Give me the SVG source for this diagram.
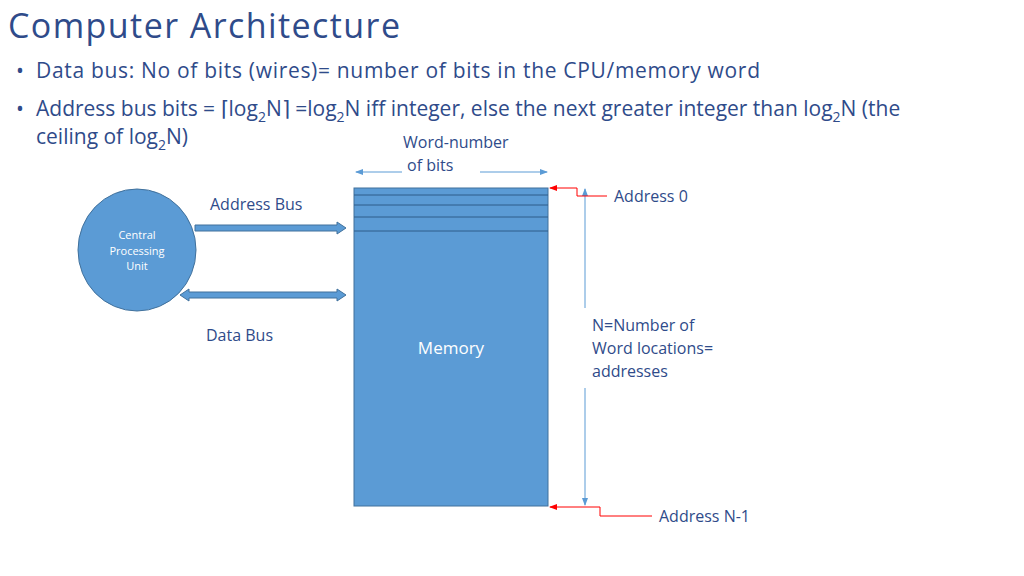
<svg xmlns="http://www.w3.org/2000/svg" width="1024" height="576" viewBox="0 0 1024 576">
<style>
text{font-family:"Open Sans","Liberation Sans",sans-serif;fill:#2f4b8a}
.t{font-size:34px;fill:#2f4b8a}
.b{font-size:21px}
.l{font-size:16px}
.blk{fill:#5b9bd5;stroke:#41719c;stroke-width:1}
.thin{stroke:#5b9bd5;stroke-width:1;fill:none}
.red{stroke:#ff0000;stroke-width:1;fill:none}
</style>
<defs>
<marker id="ab" markerWidth="8" markerHeight="8" refX="7" refY="4" orient="auto-start-reverse" markerUnits="userSpaceOnUse"><path d="M0,1 L8,4 L0,7z" fill="#5b9bd5"/></marker>
<marker id="ar" markerWidth="8" markerHeight="8" refX="7" refY="4" orient="auto" markerUnits="userSpaceOnUse"><path d="M0,1 L8,4 L0,7z" fill="#ff0000"/></marker>
</defs>
<text class="t" x="8" y="38" textLength="392">Computer Architecture</text>
<text class="b" x="16" y="78">•</text>
<text class="b" x="36" y="78" textLength="724">Data bus: No of bits (wires)= number of bits in the CPU/memory word</text>
<text class="b" x="16" y="116">•</text>
<text class="b" x="36" y="116">Address bus bits = ⌈log<tspan font-size="14" dy="6">2</tspan><tspan dy="-6">N⌉ =log</tspan><tspan font-size="14" dy="6">2</tspan><tspan dy="-6">N iff integer, else the next greater integer than log</tspan><tspan font-size="14" dy="6">2</tspan><tspan dy="-6">N (the</tspan></text>
<text class="b" x="36" y="144">ceiling of log<tspan font-size="14" dy="6">2</tspan><tspan dy="-6">N)</tspan></text>
<g id="cpu"><ellipse class="blk" cx="137" cy="250" rx="59" ry="61"/>
<text x="137" y="239" font-size="11" fill="#fff" style="fill:#fff" text-anchor="middle">Central</text>
<text x="137" y="255" font-size="11" style="fill:#fff" text-anchor="middle">Processing</text>
<text x="137" y="270" font-size="11" style="fill:#fff" text-anchor="middle">Unit</text></g>
<g id="memory"><rect class="blk" x="354" y="188" width="194" height="318"/>
<path d="M354 195H548M354 205H548M354 217H548M354 231H548" stroke="#2e5c8a" stroke-width="1"/>
<text x="451" y="354" font-size="17" style="fill:#fff" text-anchor="middle">Memory</text></g>
<g id="labels">
<text class="l" x="210" y="210">Address Bus</text>
<text class="l" x="206" y="341">Data Bus</text>
<text class="l" x="403" y="148">Word-number</text>
<text class="l" x="407" y="171">of bits</text>
<text class="l" x="614" y="202">Address 0</text>
<text class="l" x="592" y="331">N=Number of</text>
<text class="l" x="592" y="354">Word locations=</text>
<text class="l" x="592" y="377">addresses</text>
<text class="l" x="659" y="522">Address N-1</text>
</g>
<g id="connectors">
<polygon class="blk" points="195,225 337,225 337,222 346,228 337,234 337,231 195,231"/>
<polygon class="blk" points="180,295 189,289 189,292 337,292 337,289 346,295 337,301 337,298 189,298 189,301"/>
<line class="thin" x1="402" y1="172" x2="356" y2="172" marker-end="url(#ab)"/>
<line class="thin" x1="480" y1="172" x2="547" y2="172" marker-end="url(#ab)"/>
<line class="thin" x1="585" y1="308" x2="585" y2="189" marker-end="url(#ab)"/>
<line class="thin" x1="585" y1="388" x2="585" y2="505" marker-end="url(#ab)"/>
<polyline class="red" points="607,196 577,196 577,188 550,188" marker-end="url(#ar)"/>
<polyline class="red" points="652,516 600,516 600,507 550,507" marker-end="url(#ar)"/>
</g>
</svg>
